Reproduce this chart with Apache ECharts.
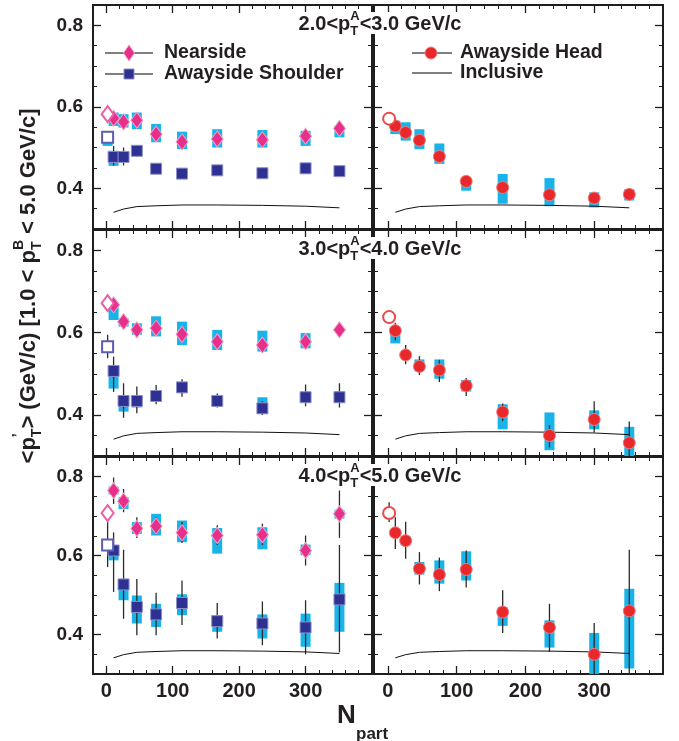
<!DOCTYPE html>
<html>
<head>
<meta charset="utf-8">
<script src="https://cdn.jsdelivr.net/npm/echarts@6/dist/echarts.min.js"></script>
<style>
  html, body { margin: 0; background: #fff; }
  #chart { width: 679px; height: 741px; }
</style>
</head>
<body>
<div id="chart"></div>
<script>
// N_part of the centrality bins, and of the reference (open symbols)
const npart = [11, 26, 46, 75, 114, 167, 235, 300, 351];
const npartRef = 2;
const inclusive = [0.341, 0.349, 0.355, 0.357, 0.359, 0.359, 0.358, 0.356, 0.352];

// each point: [value, sysLow, sysHigh, statLow, statHigh]
const near23 = [
  [0.572, 0.553, 0.586, 0.565, 0.579], [0.563, 0.549, 0.582, 0.556, 0.570],
  [0.567, 0.545, 0.586, 0.560, 0.574], [0.533, 0.513, 0.558, 0.526, 0.540],
  [0.514, 0.496, 0.539, 0.507, 0.521], [0.521, 0.500, 0.545, 0.514, 0.528],
  [0.519, 0.500, 0.543, 0.512, 0.526], [0.528, 0.504, 0.541, 0.521, 0.535],
  [0.547, 0.525, 0.553, 0.540, 0.554]];
const nearRef23 = [0.582, 0.575, 0.582, 0.578, 0.586];
const shoulder23 = [
  [0.477, 0.455, 0.492, 0.456, 0.504], [0.477, 0.468, 0.486, 0.456, 0.500],
  [0.492, 0.485, 0.500, 0.478, 0.505], [0.448, 0.441, 0.455, 0.443, 0.453],
  [0.436, 0.430, 0.442, 0.431, 0.441], [0.444, 0.436, 0.452, 0.439, 0.449],
  [0.437, 0.430, 0.447, 0.432, 0.442], [0.449, 0.443, 0.455, 0.444, 0.454],
  [0.442, 0.436, 0.448, 0.437, 0.447]];
const shoulderRef23 = [0.525, 0.504, 0.522, 0.520, 0.530];
const head23 = [
  [0.553, 0.533, 0.566, 0.547, 0.559], [0.537, 0.517, 0.562, 0.530, 0.545],
  [0.518, 0.496, 0.545, 0.511, 0.525], [0.478, 0.460, 0.510, 0.472, 0.484],
  [0.417, 0.394, 0.423, 0.411, 0.423], [0.402, 0.362, 0.435, 0.396, 0.408],
  [0.384, 0.356, 0.425, 0.378, 0.390], [0.376, 0.353, 0.390, 0.370, 0.382],
  [0.385, 0.370, 0.398, 0.373, 0.400]];
const headRef23 = [0.571, 0.566, 0.571, 0.566, 0.576];

const near34 = [
  [0.668, 0.631, 0.664, 0.660, 0.676], [0.627, 0.615, 0.635, 0.619, 0.635],
  [0.607, 0.595, 0.623, 0.600, 0.614], [0.611, 0.591, 0.640, 0.603, 0.619],
  [0.596, 0.570, 0.627, 0.588, 0.604], [0.578, 0.558, 0.607, 0.570, 0.586],
  [0.570, 0.554, 0.605, 0.562, 0.578], [0.578, 0.562, 0.599, 0.570, 0.586],
  [0.607, 0.603, 0.611, 0.599, 0.615]];
const nearRef34 = [0.672, 0.668, 0.676, 0.667, 0.677];
const shoulder34 = [
  [0.507, 0.464, 0.505, 0.456, 0.542], [0.434, 0.408, 0.448, 0.393, 0.477],
  [0.434, 0.418, 0.448, 0.404, 0.469], [0.446, 0.436, 0.457, 0.426, 0.473],
  [0.467, 0.460, 0.474, 0.444, 0.487], [0.434, 0.428, 0.440, 0.418, 0.452],
  [0.416, 0.405, 0.443, 0.400, 0.433], [0.443, 0.437, 0.449, 0.421, 0.474],
  [0.443, 0.430, 0.457, 0.418, 0.477]];
const shoulderRef34 = [0.566, 0.554, 0.574, 0.538, 0.595];
const head34 = [
  [0.605, 0.574, 0.615, 0.581, 0.624], [0.546, 0.540, 0.552, 0.523, 0.570],
  [0.518, 0.506, 0.535, 0.497, 0.543], [0.509, 0.488, 0.535, 0.480, 0.534],
  [0.471, 0.457, 0.485, 0.446, 0.490], [0.407, 0.365, 0.426, 0.385, 0.428],
  [0.350, 0.314, 0.406, 0.321, 0.375], [0.389, 0.365, 0.411, 0.357, 0.433],
  [0.332, 0.290, 0.371, 0.290, 0.384]];
const headRef34 = [0.638, 0.636, 0.640, 0.628, 0.648];

const near45 = [
  [0.765, 0.755, 0.775, 0.731, 0.798], [0.738, 0.718, 0.748, 0.710, 0.769],
  [0.669, 0.655, 0.685, 0.645, 0.697], [0.675, 0.651, 0.706, 0.654, 0.697],
  [0.658, 0.634, 0.689, 0.632, 0.685], [0.651, 0.605, 0.670, 0.627, 0.677],
  [0.653, 0.616, 0.672, 0.627, 0.681], [0.613, 0.601, 0.628, 0.575, 0.651],
  [0.706, 0.694, 0.716, 0.645, 0.765]];
const nearRef45 = [0.708, 0.703, 0.713, 0.690, 0.726];
const shoulder45 = [
  [0.613, 0.588, 0.626, 0.508, 0.659], [0.527, 0.487, 0.541, 0.440, 0.615],
  [0.470, 0.428, 0.499, 0.398, 0.541], [0.451, 0.419, 0.478, 0.398, 0.506],
  [0.480, 0.449, 0.502, 0.424, 0.537], [0.434, 0.407, 0.449, 0.390, 0.480],
  [0.428, 0.390, 0.451, 0.373, 0.484], [0.418, 0.369, 0.453, 0.350, 0.487],
  [0.489, 0.407, 0.531, 0.355, 0.627]];
const shoulderRef45 = [0.627, 0.617, 0.638, 0.571, 0.685];
const head45 = [
  [0.658, 0.649, 0.668, 0.617, 0.697], [0.638, 0.626, 0.649, 0.592, 0.686],
  [0.567, 0.552, 0.584, 0.527, 0.609], [0.552, 0.529, 0.588, 0.510, 0.595],
  [0.565, 0.537, 0.611, 0.519, 0.613], [0.457, 0.422, 0.470, 0.404, 0.512],
  [0.418, 0.367, 0.436, 0.356, 0.478], [0.350, 0.290, 0.404, 0.290, 0.429],
  [0.460, 0.314, 0.516, 0.290, 0.615]];
const headRef45 = [0.708, 0.703, 0.713, 0.685, 0.735];

const ptBins = [['2.0', '3.0'], ['3.0', '4.0'], ['4.0', '5.0']];
const yLabels = [0.4, 0.6, 0.8];
const yMinor = [0.35, 0.45, 0.5, 0.55, 0.65, 0.7, 0.75];
const xLabels = [0, 100, 200, 300];
const xMinor = [20, 40, 60, 80, 120, 140, 160, 180, 220, 240, 260, 280, 320, 340, 360, 380];

const rows = [
  {near: near23, nearRef: nearRef23, sh: shoulder23, shRef: shoulderRef23, head: head23, headRef: headRef23},
  {near: near34, nearRef: nearRef34, sh: shoulder34, shRef: shoulderRef34, head: head34, headRef: headRef34},
  {near: near45, nearRef: nearRef45, sh: shoulder45, shRef: shoulderRef45, head: head45, headRef: headRef45}
];

const FRAME = '#1e1e1e';
const TXT = '#231f20';
const CYAN = '#18b4e9';
const PINK = '#e6308a';
const NAVY = '#2e3192';
const RED = '#e8282b';
const FAM = '"Liberation Sans", Arial, sans-serif';

const colLeft = [93, 374], colWidth = [279, 289];
const rowTop = [5, 230, 457], rowHeight = [224, 226, 217];

const grids = [], xAxes = [], yAxes = [], series = [], elements = [];

function mkAxis(g, pos, isX, major, withLabels) {
  const a = {
    type: 'value', gridIndex: g, position: pos,
    min: isX ? -20 : 0.3, max: isX ? 400 : 0.85,
    splitLine: {show: false},
    axisLine: {show: !major, onZero: false, lineStyle: {color: FRAME, width: 2}},
    axisTick: {show: true, inside: true, length: major ? 8 : 4,
      customValues: major ? (isX ? xLabels : yLabels) : (isX ? xMinor : yMinor),
      lineStyle: {color: FRAME, width: major ? 1.3 : 1}},
    axisLabel: {show: false}
  };
  if (withLabels) {
    a.axisLabel = {show: true, customValues: isX ? xLabels : yLabels,
      formatter: v => isX ? String(v) : v.toFixed(1),
      color: TXT, fontFamily: FAM, fontWeight: 'bold', fontSize: isX ? 20 : 19,
      margin: isX ? 7 : 10};
  }
  return a;
}

function boxRender(params, api) {
  const x = api.value(0);
  const p1 = api.coord([x, api.value(2)]);
  const p2 = api.coord([x, api.value(1)]);
  const w = 10;
  const rect = echarts.graphic.clipRectByRect(
    {x: p1[0] - w / 2, y: p1[1], width: w, height: p2[1] - p1[1]}, params.coordSys);
  return rect && {type: 'rect', shape: rect, style: {fill: CYAN}};
}

function barRender(params, api) {
  const cs = params.coordSys;
  const x = api.value(0);
  const p1 = api.coord([x, api.value(2)]);
  const p2 = api.coord([x, api.value(1)]);
  const y1 = Math.max(p1[1], cs.y), y2 = Math.min(p2[1], cs.y + cs.height);
  return {type: 'line', shape: {x1: p1[0], y1: y1, x2: p1[0], y2: y2},
    style: {stroke: '#2a2a2a', lineWidth: 1.3}};
}

function pts(list) {
  return list.map((p, i) => [npart[i], p]);
}

for (let g = 0; g < 6; g++) {
  const row = g >> 1, col = g & 1;
  grids.push({left: colLeft[col], top: rowTop[row], width: colWidth[col], height: rowHeight[row]});
  xAxes.push(mkAxis(g, 'bottom', true, false, false));
  xAxes.push(mkAxis(g, 'bottom', true, true, row === 2));
  xAxes.push(mkAxis(g, 'top', true, false, false));
  xAxes.push(mkAxis(g, 'top', true, true, false));
  yAxes.push(mkAxis(g, 'left', false, false, false));
  yAxes.push(mkAxis(g, 'left', false, true, col === 0));
  yAxes.push(mkAxis(g, 'right', false, false, false));
  yAxes.push(mkAxis(g, 'right', false, true, false));

  const ax = {xAxisIndex: 4 * g, yAxisIndex: 4 * g, silent: true};
  const r = rows[row];
  const sets = col === 0
    ? [{d: r.sh, ref: r.shRef, sym: 'rect', size: 11, color: NAVY, edge: '#8d8fca', open: 'emptyRect', openColor: '#5b5fb0'},
       {d: r.near, ref: r.nearRef, sym: 'diamond', size: [12, 16], color: PINK, edge: '#f5a0c8', open: 'emptyDiamond', openColor: '#ec5ea4'}]
    : [{d: r.head, ref: r.headRef, sym: 'circle', size: 12, color: RED, edge: '#f27b7b', open: 'emptyCircle', openColor: '#ea4a4a'}];

  const boxData = [], barData = [];
  sets.forEach(s => {
    s.d.forEach((p, i) => {
      boxData.push([npart[i], p[1], p[2]]);
      barData.push([npart[i], p[3], p[4]]);
    });
    boxData.push([npartRef, s.ref[1], s.ref[2]]);
    barData.push([npartRef, s.ref[3], s.ref[4]]);
  });
  series.push(Object.assign({type: 'custom', z: 1, data: boxData, renderItem: boxRender}, ax));
  series.push(Object.assign({type: 'custom', z: 2, data: barData, renderItem: barRender}, ax));
  series.push(Object.assign({type: 'line', z: 2, data: pts(inclusive), symbol: 'none',
    lineStyle: {color: '#111', width: 1}}, ax));
  sets.forEach(s => {
    series.push(Object.assign({type: 'scatter', z: 3, data: pts(s.d.map(p => p[0])),
      symbol: s.sym, symbolSize: s.size,
      itemStyle: {color: s.color, borderColor: s.edge, borderWidth: 1, opacity: 1}}, ax));
    series.push(Object.assign({type: 'scatter', z: 4, data: [[npartRef, s.ref[0]]],
      symbol: s.open, symbolSize: s.size,
      itemStyle: {color: s.openColor, borderColor: s.openColor, borderWidth: 1.2, opacity: 1}}, ax));
  });
}

// ---- text helpers ----
const ctx = document.createElement('canvas').getContext('2d');
function tw(t, size) { ctx.font = 'bold ' + size + 'px "Liberation Sans"'; return ctx.measureText(t).width; }

// parts: {t, s, dy, stack} ; stack = next part drawn at the same x
function layout(parts) {
  let x = 0, pend = 0;
  const items = [];
  parts.forEach(p => {
    const w = tw(p.t, p.s);
    items.push({t: p.t, s: p.s, dy: p.dy || 0, x: x});
    if (p.stack) pend = Math.max(pend, w);
    else { x += Math.max(w, pend); pend = 0; }
  });
  return {items: items, width: x};
}

function textEl(t, s, x, y, align) {
  return {type: 'text', x: x, y: y, z: 101,
    style: {text: t, font: 'bold ' + s + 'px ' + FAM, fill: TXT, align: align || 'left', verticalAlign: 'middle'}};
}

// panel titles
ptBins.forEach((b, row) => {
  const cy = rowTop[row] + 19;
  const L = layout([
    {t: b[0] + '<p', s: 20}, {t: 'A', s: 13, dy: -8, stack: true}, {t: 'T', s: 13, dy: 7},
    {t: '<' + b[1] + ' GeV/c', s: 20}]);
  const x0 = 380 - L.width / 2;
  elements.push({type: 'rect', z: 100, shape: {x: x0 - 3, y: rowTop[row] + 7, width: L.width + 6, height: 22},
    style: {fill: '#fff'}});
  L.items.forEach(it => elements.push(textEl(it.t, it.s, x0 + it.x, cy + it.dy)));
});

// y axis title (rotated)
const YT = layout([
  {t: '<p', s: 22}, {t: '\u2019', s: 14, dy: -11, stack: true}, {t: 'T', s: 14, dy: 8},
  {t: '> (GeV/c) [1.0 < p', s: 22}, {t: 'B', s: 14, dy: -10, stack: true}, {t: 'T', s: 14, dy: 8},
  {t: ' < 5.0 GeV/c]', s: 22}]);
elements.push({type: 'group', x: 29, y: 286, rotation: Math.PI / 2, z: 101,
  children: YT.items.map(it => textEl(it.t, it.s, it.x - YT.width / 2, it.dy))});

// x axis title
elements.push(textEl('N', 26, 337, 716));
elements.push(textEl('part', 17, 356, 734));

// legends
const LINE = {stroke: '#555', lineWidth: 1.5};
elements.push({type: 'line', z: 100, shape: {x1: 105, y1: 53, x2: 153, y2: 53}, style: LINE});
elements.push({type: 'polygon', z: 101, shape: {points: [[129, 45], [134.5, 53], [129, 61], [123.5, 53]]},
  style: {fill: PINK, stroke: '#f5a0c8', lineWidth: 1}});
elements.push(textEl('Nearside', 19.5, 164, 53));
elements.push({type: 'line', z: 100, shape: {x1: 105, y1: 74, x2: 153, y2: 74}, style: LINE});
elements.push({type: 'rect', z: 101, shape: {x: 124, y: 69, width: 10, height: 10},
  style: {fill: NAVY, stroke: '#8d8fca', lineWidth: 1}});
elements.push(textEl('Awayside Shoulder', 19.5, 164, 74));
elements.push({type: 'line', z: 100, shape: {x1: 412, y1: 53, x2: 452, y2: 53}, style: LINE});
elements.push({type: 'circle', z: 101, shape: {cx: 431, cy: 53, r: 6}, style: {fill: RED, stroke: '#f27b7b', lineWidth: 1}});
elements.push(textEl('Awayside Head', 19.5, 460, 53));
elements.push({type: 'line', z: 100, shape: {x1: 412, y1: 73, x2: 452, y2: 73}, style: LINE});
elements.push(textEl('Inclusive', 19.5, 460, 73));

const chart = echarts.init(document.getElementById('chart'));
chart.setOption({
  backgroundColor: '#fff',
  animation: false,
  grid: grids,
  xAxis: xAxes,
  yAxis: yAxes,
  series: series,
  graphic: {elements: elements}
});
</script>
</body>
</html>
